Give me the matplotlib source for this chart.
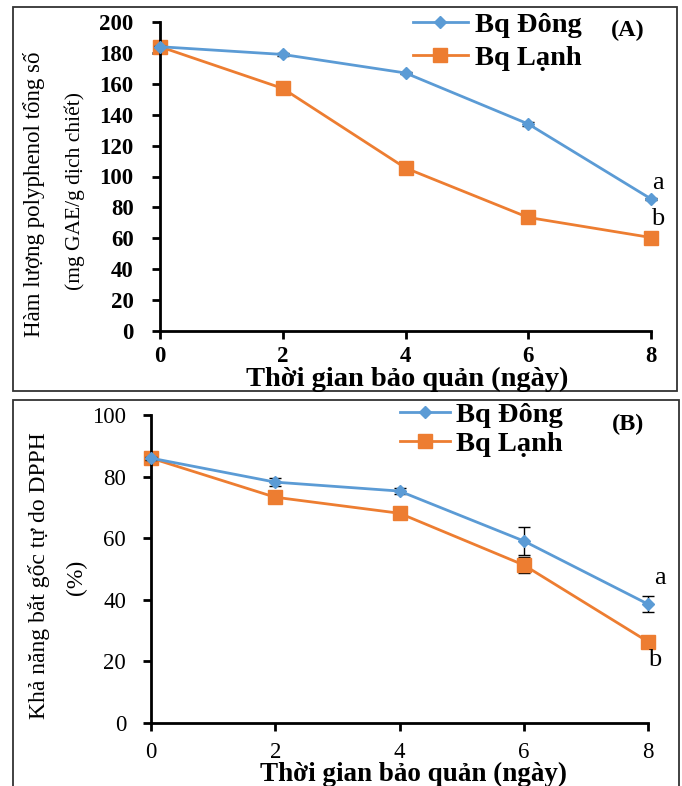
import matplotlib
matplotlib.use("Agg")
import matplotlib.pyplot as plt
from matplotlib.patches import Rectangle

# ---------------- data ----------------
days = [0, 2, 4, 6, 8]
series_names = ["Bq Đông", "Bq Lạnh"]

tpc_dong = [184, 179, 167, 134, 85.5]
tpc_lanh = [184, 157, 105.5, 73.5, 60.5]
tpc_dong_err = [0.5, 1.2, 0.8, 1.5, 0.8]
tpc_lanh_err = [0.5, 0.8, 0.8, 0.8, 0.8]

dpph_dong = [86, 78.2, 75.3, 59.1, 38.6]
dpph_lanh = [86, 73.3, 68.1, 51.3, 26.4]
dpph_dong_err = [0.5, 1.4, 1.1, 4.5, 2.7]
dpph_lanh_err = [0.5, 0.5, 0.5, 2.7, 1.5]

yticks_a = [0, 20, 40, 60, 80, 100, 120, 140, 160, 180, 200]
yticks_b = [0, 20, 40, 60, 80, 100]

xlabel = "Thời gian bảo quản (ngày)"
ylabel_a = ["Hàm lượng polyphenol tổng số", "(mg GAE/g dịch chiết)"]
ylabel_b = ["Khả năng bắt gốc tự do DPPH", "(%)"]

BLUE = "#5B9BD5"
ORANGE = "#ED7D31"
W, H = 682, 786

plt.rcParams['font.family'] = ['Liberation Serif', 'DejaVu Serif']

fig = plt.figure(figsize=(W / 100, H / 100), dpi=100)


def fx(x):
    return x / W


def fy(y):
    return 1 - y / H


# panel borders
fig.patches.append(Rectangle((fx(13), fy(391)), fx(677) - fx(13), fy(7) - fy(391),
                             transform=fig.transFigure, fill=False, lw=1.3,
                             edgecolor="#333333"))
fig.patches.append(Rectangle((fx(13), fy(800)), fx(679) - fx(13), fy(400) - fy(800),
                             transform=fig.transFigure, fill=False, lw=1.3,
                             edgecolor="#333333"))


def make_axes(x0, x1, y_top, y_bot):
    return fig.add_axes([fx(x0), fy(y_bot), fx(x1) - fx(x0), fy(y_top) - fy(y_bot)])


axA = make_axes(160, 651, 22, 331)
axB = make_axes(151, 648, 415, 723)


def style(ax, ymax, yticks, tick_weight, ypad, xpad):
    ax.set_xlim(0, 8)
    ax.set_ylim(0, ymax)
    ax.set_xticks(days)
    ax.set_yticks(yticks)
    for s in ["top", "right"]:
        ax.spines[s].set_visible(False)
    for s in ["left", "bottom"]:
        ax.spines[s].set_linewidth(2.0)
    ax.tick_params(axis="both", direction="out", length=6, width=2.0)
    ax.tick_params(axis="y", pad=ypad)
    ax.tick_params(axis="x", pad=xpad)
    for lab in ax.get_xticklabels() + ax.get_yticklabels():
        lab.set_fontsize(16.5)
        lab.set_fontweight(tick_weight)
    ax.patch.set_alpha(0)


def draw(ax, yd, yl, ed, el, msd, msq):
    c1 = ax.errorbar(days, yd, yerr=ed, color=BLUE, lw=2.0, marker="D", ms=msd,
                     ecolor="black", elinewidth=1.0, capsize=4, capthick=1.0,
                     zorder=3, clip_on=False)
    c2 = ax.errorbar(days, yl, yerr=el, color=ORANGE, lw=2.0, marker="s", ms=msq,
                     ecolor="black", elinewidth=1.0, capsize=4, capthick=1.0,
                     zorder=2, clip_on=False)
    return [c1[0], c2[0]]


hA = draw(axA, tpc_dong, tpc_lanh, tpc_dong_err, tpc_lanh_err, 6.5, 9.5)
hB = draw(axB, dpph_dong, dpph_lanh, dpph_dong_err, dpph_lanh_err, 6.5, 10)
style(axA, 200, yticks_a, "bold", 13, 5)
style(axB, 100, yticks_b, "normal", 12, 8)

# legends
axA.legend(hA, series_names, loc="upper left", bbox_to_anchor=(fx(413), fy(12)),
           bbox_transform=fig.transFigure, frameon=False,
           prop={"weight": "bold", "size": 20.5},
           handlelength=1.93, handletextpad=0.25, labelspacing=0.25,
           borderpad=0, borderaxespad=0)
axB.legend(hB, series_names, loc="upper left", bbox_to_anchor=(fx(400), fy(402)),
           bbox_transform=fig.transFigure, frameon=False,
           prop={"weight": "bold", "size": 20.5},
           handlelength=1.75, handletextpad=0.22, labelspacing=0.1,
           borderpad=0, borderaxespad=0)

# panel tags
fig.text(fx(628), fy(30), "(A)", ha="center", va="center", fontsize=17.5, fontweight="bold")
fig.text(fx(628), fy(424), "(B)", ha="center", va="center", fontsize=17.5, fontweight="bold")

# significance letters
axA.text(8.11, 96, "a", ha="center", va="center", fontsize=19)
axA.text(8.11, 72.5, "b", ha="center", va="center", fontsize=19)
axB.text(8.19, 47, "a", ha="center", va="center", fontsize=19)
axB.text(8.11, 20.5, "b", ha="center", va="center", fontsize=19)

# axis labels
fig.text(fx(407), fy(379), xlabel, ha="center", va="center", fontsize=20.5, fontweight="bold")
fig.text(fx(414), fy(774), xlabel, ha="center", va="center", fontsize=19.5, fontweight="bold")

fig.text(fx(34), fy(194), ylabel_a[0], rotation=90, ha="center", va="center", fontsize=16.5)
fig.text(fx(75), fy(191), ylabel_a[1], rotation=90, ha="center", va="center", fontsize=15.5)
fig.text(fx(39), fy(576), ylabel_b[0], rotation=90, ha="center", va="center", fontsize=17)
fig.text(fx(76), fy(577), ylabel_b[1], rotation=90, ha="center", va="center", fontsize=17)

fig.savefig("out.png", dpi=100)
